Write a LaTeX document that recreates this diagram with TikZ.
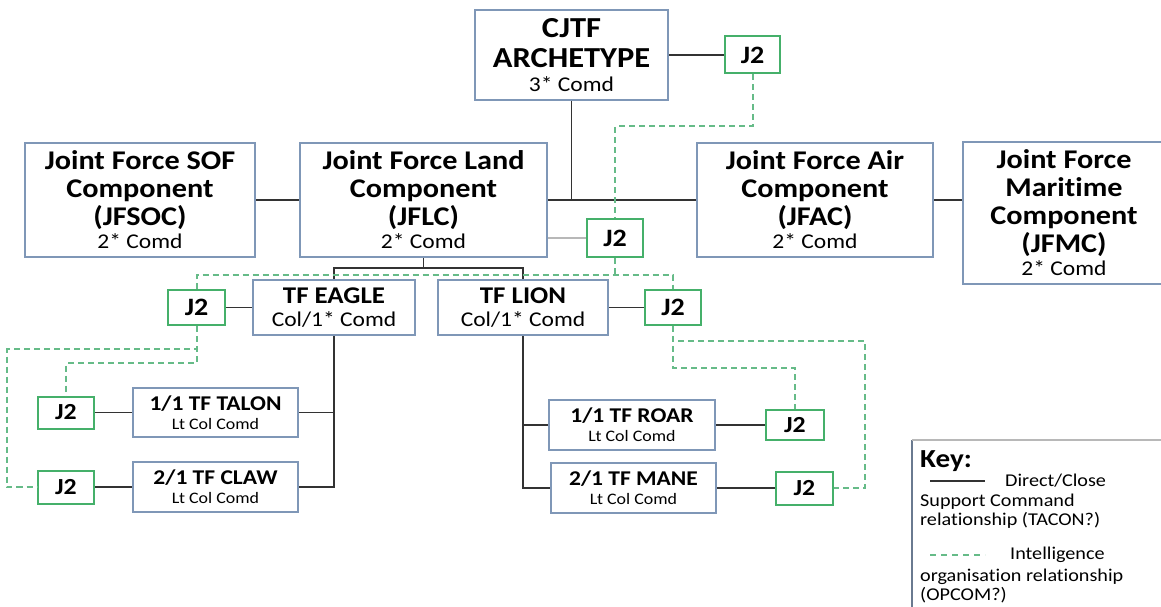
\documentclass[tikz,border=0pt]{standalone}
\usepackage{fontspec}
\setmainfont{Carlito}[FakeStretch=1.12,Ligatures=NoCommon]
\usepackage{xcolor}
\usepackage{tikz}
\usetikzlibrary{positioning}
\definecolor{unitblue}{HTML}{7F97B7}
\definecolor{jgreen}{HTML}{45B06A}
\definecolor{dashgreen}{HTML}{66BB88}
\definecolor{linegray}{HTML}{333333}
\definecolor{softgray}{HTML}{B8B8B8}
\definecolor{keyedge}{HTML}{6A7A90}
\begin{document}
\begin{tikzpicture}[x=1pt,y=-1pt,every node/.style={inner sep=0pt,align=center,text=black},unit/.style={draw=unitblue,line width=2pt,fill=white},jtwo/.style={draw=jgreen,line width=2pt,fill=white,font=\fontsize{25}{27}\selectfont\bfseries},jsmall/.style={jtwo,font=\fontsize{23}{25}\selectfont\bfseries},big/.style={font=\fontsize{27}{28}\selectfont\bfseries},mid/.style={font=\fontsize{24}{23}\selectfont\bfseries},low/.style={font=\fontsize{21}{19}\selectfont\bfseries},keytxt/.style={font=\fontsize{18}{19}\selectfont},cmd/.style={draw=linegray,line width=1.8pt},intel/.style={draw=dashgreen,line width=2pt,dash pattern=on 6pt off 4pt}]
\useasboundingbox (0,0) rectangle (1161,607);
\node[unit,font=\fontsize{29}{30}\selectfont\bfseries,minimum width=193,minimum height=90] (cjtf) at (571.5,55) {CJTF\\ARCHETYPE\\[-6pt]{\mdseries\fontsize{21}{22}\selectfont 3* Comd}};
\node[jtwo,minimum width=55,minimum height=37,right=55pt of cjtf] (jtop) {J2};
\node[unit,big,minimum width=230,minimum height=114] (sof) at (140,200) {Joint Force SOF\\Component\\(JFSOC)\\[-5pt]{\mdseries\fontsize{21}{22}\selectfont 2* Comd}};
\node[unit,big,minimum width=247,minimum height=114] (land) at (423.5,200) {Joint Force Land\\Component\\(JFLC)\\[-5pt]{\mdseries\fontsize{21}{22}\selectfont 2* Comd}};
\node[unit,big,minimum width=236,minimum height=114] (air) at (815,200) {Joint Force Air\\Component\\(JFAC)\\[-5pt]{\mdseries\fontsize{21}{22}\selectfont 2* Comd}};
\node[unit,big,minimum width=202,minimum height=142] (mar) at (1064,213) {Joint Force\\Maritime\\Component\\(JFMC)\\[-5pt]{\mdseries\fontsize{21}{22}\selectfont 2* Comd}};
\node[jtwo,minimum width=56,minimum height=38] (jland) at (615,238) {J2};
\node[unit,mid,minimum width=162,minimum height=55] (eagle) at (334,307.5) {TF EAGLE\\{\mdseries\fontsize{21}{22}\selectfont Col/1* Comd}};
\node[unit,mid,minimum width=170,minimum height=55] (lion) at (523,307.5) {TF LION\\{\mdseries\fontsize{21}{22}\selectfont Col/1* Comd}};
\node[jtwo,minimum width=57,minimum height=35,left=26pt of eagle] (jeagle) {J2};
\node[jtwo,minimum width=56,minimum height=35,right=35pt of lion] (jlion) {J2};
\node[unit,low,minimum width=165,minimum height=49] (talon) at (215.5,412.5) {1/1 TF TALON\\{\mdseries\fontsize{16}{17}\selectfont Lt Col Comd}};
\node[unit,low,minimum width=165,minimum height=50] (claw) at (215.5,487) {2/1 TF CLAW\\{\mdseries\fontsize{16}{17}\selectfont Lt Col Comd}};
\node[unit,low,minimum width=166,minimum height=50] (roar) at (632,425) {1/1 TF ROAR\\{\mdseries\fontsize{16}{17}\selectfont Lt Col Comd}};
\node[unit,low,minimum width=165,minimum height=50] (mane) at (633.5,488) {2/1 TF MANE\\{\mdseries\fontsize{16}{17}\selectfont Lt Col Comd}};
\node[jsmall,minimum width=56,minimum height=32,left=37pt of talon] (jtalon) {J2};
\node[jsmall,minimum width=56,minimum height=33,left=37pt of claw] (jclaw) {J2};
\node[jsmall,minimum width=58,minimum height=30,right=49pt of roar] (jroar) {J2};
\node[jsmall,minimum width=57,minimum height=33,right=58pt of mane] (jmane) {J2};
\coordinate (fork) at (423.5,268);
\draw[cmd] (cjtf) -- (jtop);\draw[cmd] (sof) -- (land);\draw[cmd] (land) -- (air);\draw[cmd] (cjtf.south) -- (cjtf.south |- land.east);\draw[cmd] (air.east) -- (air.east -| mar.west);
\draw[softgray,line width=1.8pt] (jland.west -| land.east) -- (jland.west);
\draw[cmd] (land.south) -- (fork);\draw[cmd] (eagle.north) |- (fork) -| (lion.north);
\draw[cmd] (jeagle) -- (eagle);\draw[cmd] (lion) -- (jlion);
\draw[cmd] (talon.east) -| (eagle.south);\draw[cmd] (eagle.south) |- (claw.east);\draw[cmd] (lion.south) |- (roar.west);\draw[cmd] (lion.south) |- (mane.west);
\draw[cmd] (jtalon) -- (talon);\draw[cmd] (jclaw) -- (claw);\draw[cmd] (roar) -- (jroar);\draw[cmd] (mane) -- (jmane);
\draw[intel] (jtop.south) -- ++(0,52) -| (jland.north);
\draw[intel] (jland.south) -- ++(0,17) coordinate (ibar);\draw[intel] (jeagle.north) |- (ibar) -| (jlion.north);
\draw[intel] (jeagle.south) -- ++(0,23) -| ([xshift=-30pt]jclaw.west) -- (jclaw.west);\draw[intel] (jeagle.south) -- ++(0,37) -| (jtalon.north);
\draw[intel] (jlion.south) -- ++(0,15) -| ([xshift=31pt]jmane.east) -- (jmane.east);\draw[intel] (jlion.south) -- ++(0,42) -| (jroar.north);
\draw[keyedge,line width=1.5pt] (912,620) -- (912,440);\draw[softgray,line width=1.5pt] (912,440) -- (1170,440);
\node[anchor=west,font=\fontsize{26}{28}\selectfont\bfseries] (keyhead) at (920,461) {Key:};
\node[anchor=west,keytxt] (keya) at (1005,481) {Direct/Close};
\node[anchor=north west,keytxt,align=left] (keyb) at (920,494) {Support Command\\relationship (TACON?)};
\node[anchor=west,keytxt] (keyc) at (1010,555) {Intelligence};
\node[anchor=north west,keytxt,align=left] (keyd) at (920,569) {organisation relationship\\(OPCOM?)};
\draw[cmd,line width=1.5pt] ([xshift=-75pt]keya.west) -- ([xshift=-20pt]keya.west);
\draw[intel,line width=1.5pt,dash pattern=on 6pt off 5pt] ([xshift=-80pt]keyc.west) -- ([xshift=-25pt]keyc.west);
\end{tikzpicture}
\end{document}
